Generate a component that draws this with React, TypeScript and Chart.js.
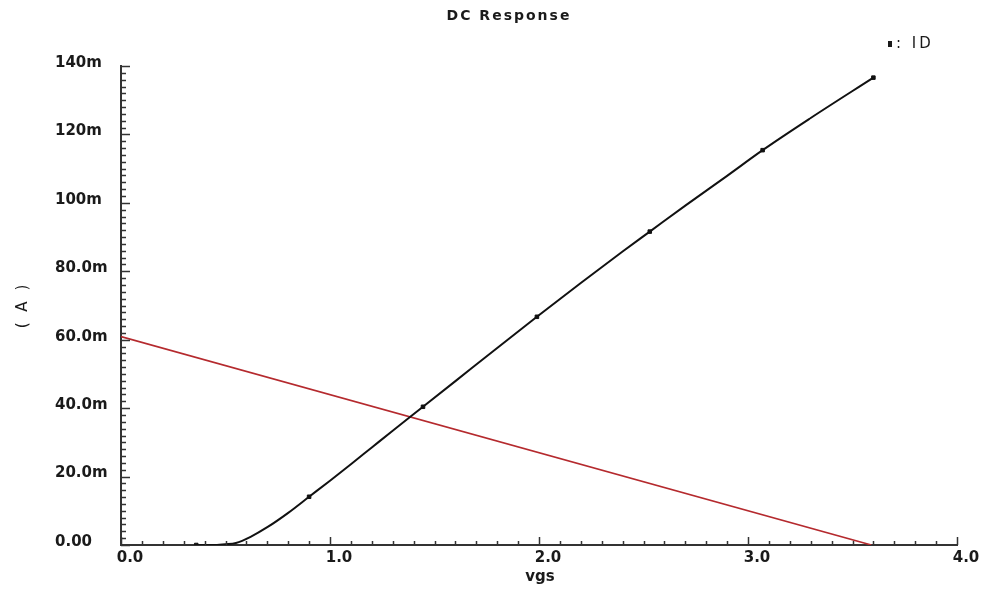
import React, { useEffect, useRef } from 'react';
import { Chart, registerables } from 'chart.js';

Chart.register(...registerables);

// ---- data ----
const vgsValues = [0.36, 0.45, 0.5, 0.55, 0.62, 0.7, 0.8, 0.9, 1.0, 1.1, 1.2, 1.3, 1.445, 1.6, 1.8, 1.99, 2.2, 2.4, 2.53, 2.7, 2.9, 3.07, 3.3, 3.6];
const idMilliamps = [0, 0, 0.2, 0.6, 2.4, 5.2, 9.4, 14.1, 18.8, 23.6, 28.5, 33.4, 40.4, 47.9, 57.6, 66.7, 76.6, 85.8, 91.6, 99.2, 107.9, 115.4, 124.8, 136.6];
const markerVgs = [0.36, 0.9, 1.445, 1.99, 2.53, 3.07, 3.6];
const loadLineVgs = [0, 3.59];
const loadLineMilliamps = [60.9, 0];

const xTickValues = [0, 1, 2, 3, 4];
const xTickLabels = ['0.0', '1.0', '2.0', '3.0', '4.0'];
const yTickValues = [0, 20, 40, 60, 80, 100, 120, 140];
const yTickLabels = ['0.00', '20.0m', '40.0m', '60.0m', '80.0m', '100m', '120m', '140m'];

const chartTitle = 'DC Response';
const xAxisTitle = 'vgs';
const yAxisTitle = '( A )';
const legendLabel = ': ID';

const AXIS_COLOR = '#333333';
const TEXT_COLOR = '#1a1a1a';

const decorPlugin = {
  id: 'decor',
  afterDraw(chart: any) {
    const ctx = chart.ctx as CanvasRenderingContext2D;
    const xs = chart.scales.x;
    const ys = chart.scales.y;
    const area = chart.chartArea;
    ctx.save();
    ctx.strokeStyle = AXIS_COLOR;
    ctx.lineWidth = 1.5;
    // x-axis inward ticks (every 0.1)
    for (let i = 0; i <= 40; i++) {
      const v = i / 10;
      const px = Math.round(xs.getPixelForValue(v)) + 0.5;
      const len = i % 10 === 0 ? 8 : 4;
      ctx.beginPath();
      ctx.moveTo(px, area.bottom);
      ctx.lineTo(px, area.bottom - len);
      ctx.stroke();
    }
    // y-axis inward ticks (every 2m)
    for (let i = 0; i <= 70; i++) {
      const v = i * 2;
      const py = Math.round(ys.getPixelForValue(v)) + 0.5;
      const len = i % 10 === 0 ? 9 : 5;
      ctx.beginPath();
      ctx.moveTo(area.left, py);
      ctx.lineTo(area.left + len, py);
      ctx.stroke();
    }
    ctx.restore();

    ctx.save();
    ctx.fillStyle = TEXT_COLOR;
    ctx.textBaseline = 'middle';
    // title
    ctx.font = '600 14px "DejaVu Sans"';
    (ctx as any).letterSpacing = '2px';
    ctx.textAlign = 'center';
    ctx.fillText(chartTitle, 509, 16);
    // legend
    ctx.fillRect(888, 41, 4, 6);
    ctx.textAlign = 'left';
    ctx.font = '15px "DejaVu Sans"';
    (ctx as any).letterSpacing = '3px';
    ctx.fillText(legendLabel, 896, 44);
    // x title
    (ctx as any).letterSpacing = '0px';
    ctx.font = 'bold 15px "DejaVu Sans"';
    ctx.textAlign = 'center';
    ctx.fillText(xAxisTitle, 540, 577);
    // y title
    ctx.translate(23, 305);
    ctx.rotate(-Math.PI / 2);
    ctx.font = '15px "DejaVu Sans"';
    (ctx as any).letterSpacing = '3px';
    ctx.fillText(yAxisTitle, 0, 0);
    ctx.restore();
  },
};

export default function App() {
  const canvasRef = useRef<HTMLCanvasElement | null>(null);

  useEffect(() => {
    const canvas = canvasRef.current;
    if (!canvas) return;
    const chart = new Chart(canvas, {
      type: 'line',
      data: {
        datasets: [
          {
            label: 'ID',
            data: vgsValues.map((x, i) => ({ x, y: idMilliamps[i] })),
            borderColor: '#111111',
            borderWidth: 2,
            backgroundColor: '#111111',
            pointStyle: 'rect',
            pointRadius: (c: any) => {
              const v = vgsValues[c.dataIndex];
              return markerVgs.some((m) => Math.abs(m - v) < 1e-6) ? 2.5 : 0;
            },
            pointBackgroundColor: '#111111',
            pointBorderColor: '#111111',
            pointBorderWidth: 1,
            cubicInterpolationMode: 'monotone',
            fill: false,
            order: 1,
          },
          {
            label: 'load',
            data: loadLineVgs.map((x, i) => ({ x, y: loadLineMilliamps[i] })),
            borderColor: '#b52a2e',
            borderWidth: 1.6,
            pointRadius: 0,
            fill: false,
            order: 2,
          },
        ],
      },
      options: {
        responsive: false,
        animation: false,
        devicePixelRatio: 1,
        layout: { padding: { left: 55, top: 66, right: 28, bottom: 0 } },
        plugins: {
          legend: { display: false },
          title: { display: false },
          tooltip: { enabled: false },
        },
        scales: {
          x: {
            type: 'linear',
            min: 0,
            max: 4,
            afterBuildTicks: (s: any) => {
              s.ticks = xTickValues.map((value) => ({ value }));
            },
            afterFit: (s: any) => {
              s.height = 45;
            },
            ticks: {
              callback: (_v: any, i: number) => xTickLabels[i],
              font: { family: 'DejaVu Sans', size: 15, weight: 'bold' },
              color: TEXT_COLOR,
              padding: 4,
              labelOffset: 9,
              maxRotation: 0,
              autoSkip: false,
            },
            grid: { display: false, drawTicks: false },
            border: { display: true, color: AXIS_COLOR, width: 2 },
          },
          y: {
            type: 'linear',
            min: 0,
            max: 140,
            afterBuildTicks: (s: any) => {
              s.ticks = yTickValues.map((value) => ({ value }));
            },
            afterFit: (s: any) => {
              s.width = 66;
            },
            ticks: {
              callback: (_v: any, i: number) => yTickLabels[i],
              font: { family: 'DejaVu Sans', size: 15, weight: 'bold' },
              color: TEXT_COLOR,
              crossAlign: 'far',
              labelOffset: -3,
              autoSkip: false,
            },
            grid: { display: false, drawTicks: false },
            border: { display: true, color: AXIS_COLOR, width: 2 },
          },
        },
      } as any,
      plugins: [decorPlugin],
    });
    return () => chart.destroy();
  }, []);

  return (
    <div style={{ position: 'fixed', left: 0, top: 0, width: 985, height: 590, background: '#ffffff' }}>
      <canvas ref={canvasRef} width={985} height={590} style={{ display: 'block', width: 985, height: 590 }} />
    </div>
  );
}
